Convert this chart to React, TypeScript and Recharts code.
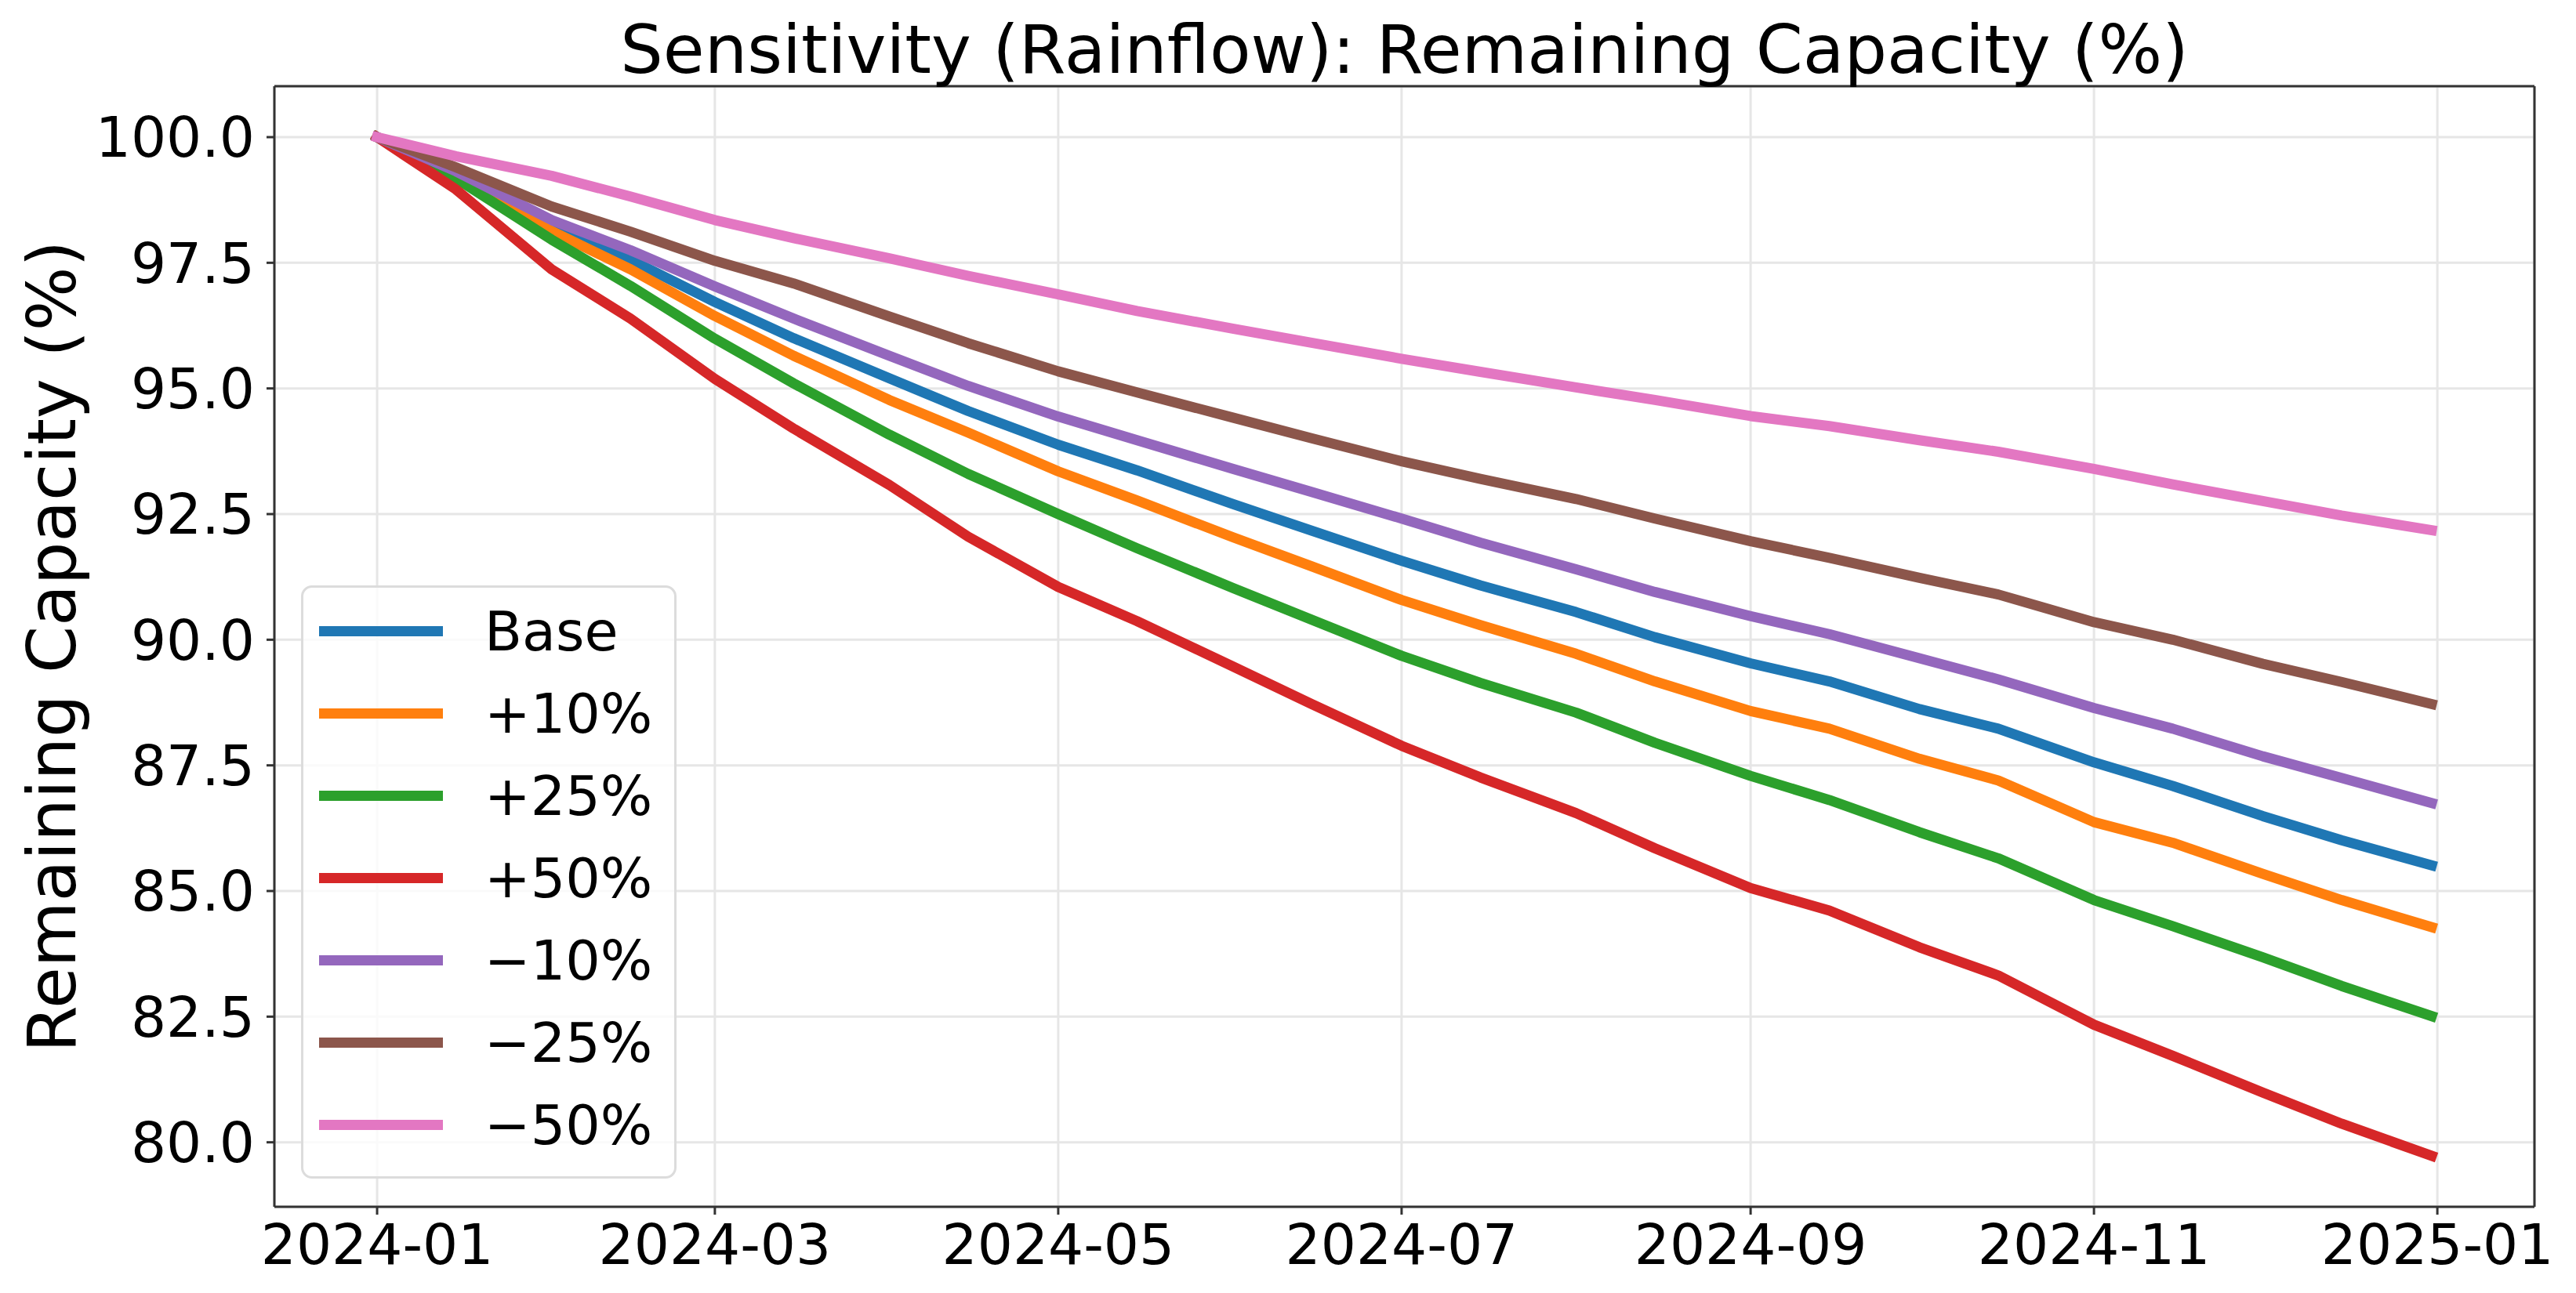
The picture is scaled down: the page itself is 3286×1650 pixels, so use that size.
import { LineChart, Line, XAxis, YAxis, CartesianGrid, Legend, ReferenceLine } from "recharts";

const dates = [
  "2024-01-01", "2024-01-15", "2024-02-01", "2024-02-15", "2024-03-01", "2024-03-15",
  "2024-04-01", "2024-04-15", "2024-05-01", "2024-05-15", "2024-06-01", "2024-06-15",
  "2024-07-01", "2024-07-15", "2024-08-01", "2024-08-15", "2024-09-01", "2024-09-15",
  "2024-10-01", "2024-10-15", "2024-11-01", "2024-11-15", "2024-12-01", "2024-12-15",
  "2024-12-31",
];

const base = [100, 99.28, 98.23, 97.56, 96.72, 96.0, 95.2, 94.55, 93.88, 93.37, 92.7, 92.17, 91.57, 91.08, 90.55, 90.05, 89.53, 89.17, 88.62, 88.23, 87.56, 87.09, 86.49, 86.01, 85.51];
const plus10 = [100, 99.25, 98.13, 97.37, 96.44, 95.65, 94.77, 94.12, 93.35, 92.77, 92.04, 91.46, 90.79, 90.29, 89.72, 89.17, 88.58, 88.23, 87.63, 87.2, 86.37, 85.96, 85.34, 84.82, 84.28];
const plus25 = [100, 99.18, 97.96, 97.04, 95.99, 95.1, 94.08, 93.3, 92.5, 91.82, 91.03, 90.4, 89.68, 89.14, 88.55, 87.95, 87.29, 86.81, 86.17, 85.65, 84.82, 84.3, 83.68, 83.11, 82.51];
const plus50 = [100, 98.96, 97.37, 96.39, 95.19, 94.2, 93.08, 92.05, 91.05, 90.37, 89.47, 88.72, 87.89, 87.26, 86.55, 85.85, 85.06, 84.61, 83.88, 83.32, 82.34, 81.72, 80.99, 80.37, 79.73];
const minus10 = [100, 99.32, 98.35, 97.75, 97.03, 96.39, 95.65, 95.05, 94.44, 93.97, 93.4, 92.94, 92.41, 91.93, 91.4, 90.95, 90.47, 90.11, 89.63, 89.21, 88.64, 88.23, 87.68, 87.25, 86.75];
const minus25 = [100, 99.4, 98.62, 98.12, 97.54, 97.09, 96.43, 95.9, 95.34, 94.92, 94.42, 94.01, 93.55, 93.2, 92.8, 92.41, 91.96, 91.63, 91.23, 90.9, 90.35, 90.0, 89.52, 89.16, 88.72];
const minus50 = [100, 99.62, 99.23, 98.82, 98.35, 97.99, 97.59, 97.24, 96.87, 96.54, 96.19, 95.91, 95.59, 95.33, 95.02, 94.77, 94.45, 94.25, 93.97, 93.74, 93.4, 93.09, 92.76, 92.47, 92.18];

const seriesNames = ["Base", "+10%", "+25%", "+50%", "\u221210%", "\u221225%", "\u221250%"];
const seriesKeys = ["base", "plus10", "plus25", "plus50", "minus10", "minus25", "minus50"];
const seriesColors = ["#1f77b4", "#ff7f0e", "#2ca02c", "#d62728", "#9467bd", "#8c564b", "#e377c2"];
const seriesValues = [base, plus10, plus25, plus50, minus10, minus25, minus50];

const xTickDates = ["2024-01-01", "2024-03-01", "2024-05-01", "2024-07-01", "2024-09-01", "2024-11-01", "2025-01-01"];
const yTicks = [80, 82.5, 85, 87.5, 90, 92.5, 95, 97.5, 100];

const FONT = "DejaVu Sans";
const W = 3270;
const H = 1634;

const data = dates.map((d, i) => {
  const row: any = { t: Date.parse(d) };
  seriesKeys.forEach((k, j) => {
    row[k] = seriesValues[j][i];
  });
  return row;
});

const tMin = Date.parse(dates[0]);
const tMax = Date.parse(dates[dates.length - 1]);
const tPad = (tMax - tMin) * 0.05;
const xDomain = [tMin - tPad, tMax + tPad];

const allValues = seriesValues.flat();
const vMin = Math.min(...allValues);
const vMax = Math.max(...allValues);
const vPad = (vMax - vMin) * 0.05;
const yDomain = [vMin - vPad, vMax + vPad];

const xTicks = xTickDates.map((d) => Date.parse(d));

function fmtMonth(t: number) {
  const d = new Date(t);
  const m = String(d.getUTCMonth() + 1).padStart(2, "0");
  return `${d.getUTCFullYear()}-${m}`;
}

function LegendBox(props: any) {
  // keep the plotting order, not the alphabetical one
  const payload = [...(props.payload || [])].sort(
    (a: any, b: any) => seriesNames.indexOf(a.value) - seriesNames.indexOf(b.value)
  );
  return (
    <div
      style={{
        border: "3px solid #dcdcdc",
        borderRadius: 14,
        background: "rgba(255,255,255,0.8)",
        paddingTop: 3,
        paddingBottom: 13,
        boxSizing: "border-box",
        width: 479,
        fontFamily: FONT,
      }}
    >
      {payload.map((p: any) => (
        <div
          key={p.value}
          style={{ display: "flex", alignItems: "center", height: 105 }}
        >
          <div
            style={{
              marginLeft: 20,
              width: 158,
              height: 13,
              background: p.color,
            }}
          />
          <span
            style={{
              marginLeft: 53,
              fontSize: 70,
              lineHeight: "70px",
              color: "#000",
            }}
          >
            {p.value}
          </span>
        </div>
      ))}
    </div>
  );
}

function YLabel(props: any) {
  const vb = props.viewBox || {};
  const cy = vb.y + vb.height / 2;
  const x = 88;
  return (
    <text
      x={x}
      y={cy}
      transform={`rotate(-90, ${x}, ${cy})`}
      textAnchor="middle"
      fontFamily={FONT}
      fontSize={86}
      fill="#000"
    >
      Remaining Capacity (%)
    </text>
  );
}

export default function App() {
  return (
    <div style={{ position: "relative", width: W, height: H, background: "#fff" }}>
      <div
        style={{
          position: "absolute",
          top: 12,
          left: 342,
          width: 2883,
          textAlign: "center",
          fontFamily: FONT,
          fontSize: 86,
          lineHeight: "86px",
          color: "#000",
          zIndex: 2,
        }}
      >
        Sensitivity (Rainflow): Remaining Capacity (%)
      </div>

      <LineChart
        width={W}
        height={H}
        data={data}
        margin={{ top: 102, right: 45, left: 0, bottom: 0 }}
      >
        <CartesianGrid stroke="#e6e6e6" strokeWidth={3} />

        <XAxis
          dataKey="t"
          type="number"
          domain={xDomain}
          allowDataOverflow
          ticks={xTicks}
          interval={0}
          tickFormatter={fmtMonth}
          height={102}
          tickSize={10}
          tickMargin={13}
          axisLine={{ stroke: "#333", strokeWidth: 3 }}
          tickLine={{ stroke: "#333", strokeWidth: 3 }}
          tick={{ fontFamily: FONT, fontSize: 71, fill: "#000" }}
        />

        <YAxis
          type="number"
          domain={yDomain}
          allowDataOverflow
          ticks={yTicks}
          interval={0}
          tickFormatter={(v: number) => v.toFixed(1)}
          width={342}
          tickSize={10}
          tickMargin={15}
          axisLine={{ stroke: "#333", strokeWidth: 3 }}
          tickLine={{ stroke: "#333", strokeWidth: 3 }}
          tick={{ fontFamily: FONT, fontSize: 71, fill: "#000" }}
          label={{ content: YLabel }}
        />

        <ReferenceLine y={yDomain[1]} stroke="#333" strokeWidth={3} />
        <ReferenceLine x={xDomain[1]} stroke="#333" strokeWidth={3} />

        <Legend
          layout="vertical"
          align="center"
          verticalAlign="middle"
          content={<LegendBox />}
          wrapperStyle={{ position: "absolute", left: 376, top: 739, width: 479 }}
        />

        {seriesKeys.map((k, j) => (
          <Line
            key={k}
            dataKey={k}
            name={seriesNames[j]}
            stroke={seriesColors[j]}
            strokeWidth={13}
            strokeLinecap="square"
            strokeLinejoin="round"
            dot={false}
            type="linear"
            isAnimationActive={false}
          />
        ))}
      </LineChart>
    </div>
  );
}
